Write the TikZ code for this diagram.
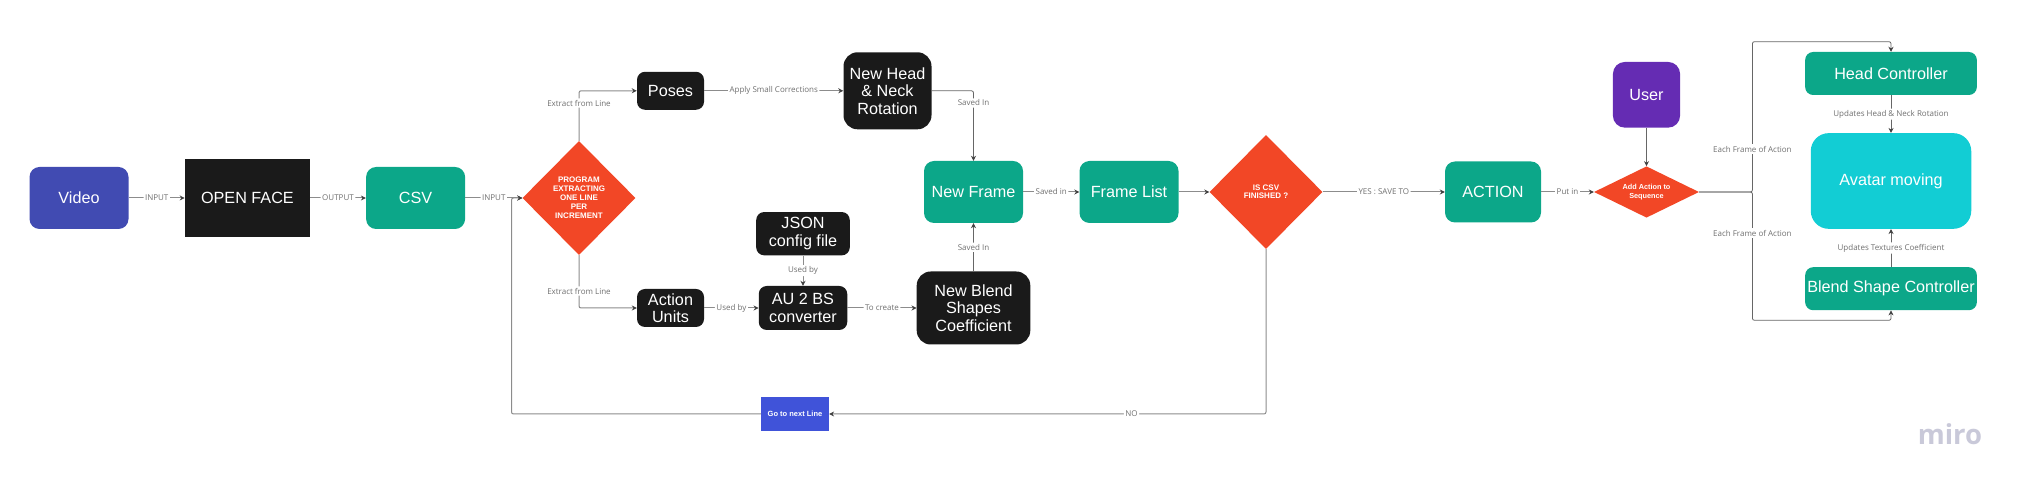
\documentclass[tikz,border=0pt]{standalone}
\usepackage{fontspec}
\setmainfont{Liberation Sans}
\newfontfamily\labelfont{Open Sans}
\usetikzlibrary{shapes.geometric,arrows.meta}
\definecolor{videoblue}{HTML}{414BB2}
\definecolor{nextblue}{HTML}{4053D9}
\definecolor{flowteal}{HTML}{0CA789}
\definecolor{flowdark}{HTML}{1A1A1A}
\definecolor{flowred}{HTML}{F24726}
\definecolor{userpurple}{HTML}{652CB3}
\definecolor{avatarcyan}{HTML}{12CDD4}
\definecolor{linegray}{HTML}{8C8C8C}
\definecolor{thingray}{HTML}{666666}
\definecolor{tipgray}{HTML}{414141}
\definecolor{labelgray}{HTML}{707070}
\definecolor{miroglyph}{HTML}{C9C9D9}
\begin{document}
\begin{tikzpicture}[x=1pt,y=1pt]
    \tikzstyle{box} = [rectangle, text=white, inner sep=0pt, align=center, font=\fontsize{16.2}{17.5}\selectfont]
    \tikzstyle{tealbox} = [box, fill=flowteal, rounded corners=10pt, minimum width=99pt, minimum height=62pt]
    \tikzstyle{darkbox} = [box, fill=flowdark, rounded corners=8pt]
    \tikzstyle{decision} = [diamond, fill=flowred, text=white, inner sep=0pt, align=center, minimum width=113pt, minimum height=114pt, font=\fontsize{8}{9}\selectfont\bfseries]
    \tikzstyle{arrow} = [line width=1pt, draw=linegray, rounded corners=2pt, ->, >={Stealth[length=5pt,width=5pt,color=tipgray]}]
    \tikzstyle{thinarrow} = [arrow, line width=0.8pt, draw=thingray]
    \tikzstyle{linelabel} = [fill=white, text=labelgray, inner sep=1.5pt, font=\labelfont\fontsize{8}{9}\selectfont]

    \useasboundingbox (0,0) rectangle (2030,492);

    \node [box, fill=videoblue, rounded corners=10pt, minimum width=99pt, minimum height=62pt] (video) at (79,294) {Video};
    \node [box, fill=flowdark, minimum width=125pt, minimum height=78pt, right of=video, node distance=168.4pt] (openface) {OPEN FACE};
    \node [tealbox, right of=openface, node distance=168.2pt] (csv) {CSV};
    \node [decision, right of=csv, node distance=163.4pt] (program) {PROGRAM\\EXTRACTING\\ONE LINE\\PER\\INCREMENT};
    \coordinate [left of=program, node distance=67.5pt] (loopin);

    \node [darkbox, minimum width=67pt, minimum height=38pt, right of=program, node distance=91.5pt, yshift=107.2pt] (poses) {Poses};
    \node [darkbox, minimum width=67pt, minimum height=38pt, right of=program, node distance=91.5pt, yshift=-110pt] (actionunits) {Action\\Units};
    \node [darkbox, rounded corners=14pt, minimum width=88pt, minimum height=77pt, right of=poses, node distance=217pt] (newhead) {New Head\\\& Neck\\Rotation};
    \node [darkbox, minimum width=88.5pt, minimum height=44pt, right of=actionunits, node distance=132.5pt] (converter) {AU 2 BS\\converter};
    \node [darkbox, minimum width=93.6pt, minimum height=43.3pt, above of=converter, node distance=74.3pt] (jsonfile) {JSON\\config file};
    \node [darkbox, rounded corners=14pt, minimum width=113.6pt, minimum height=73pt, right of=converter, node distance=170.5pt] (newblend) {New Blend\\Shapes\\Coefficient};
    \node [tealbox, above of=newblend, node distance=116pt] (newframe) {New Frame};
    \node [tealbox, right of=newframe, node distance=155.5pt] (framelist) {Frame List};
    \node [decision, font=\fontsize{8}{8}\selectfont\bfseries, right of=framelist, node distance=137pt] (finished) {IS CSV\\FINISHED ?};
    \node [tealbox, minimum width=96pt, minimum height=61pt, right of=finished, node distance=227pt] (action) {ACTION};
    \node [decision, aspect=2, minimum width=105pt, minimum height=51.3pt, font=\fontsize{7.3}{9.3}\selectfont\bfseries, right of=action, node distance=153.5pt] (addaction) {Add Action to\\Sequence};
    \node [box, fill=userpurple, rounded corners=12pt, minimum width=67.2pt, minimum height=65.7pt, above of=addaction, node distance=97.2pt] (user) {User};
    \node [tealbox, rounded corners=8pt, minimum width=171.7pt, minimum height=43pt, right of=addaction, node distance=244.5pt, yshift=118.5pt] (headctrl) {Head Controller};
    \node [box, fill=avatarcyan, rounded corners=18pt, minimum width=160.5pt, minimum height=95.7pt, right of=addaction, node distance=244.5pt, yshift=11pt] (avatar) {Avatar moving};
    \node [tealbox, rounded corners=8pt, minimum width=171.7pt, minimum height=43pt, below of=avatar, node distance=107.7pt] (blendctrl) {Blend Shape Controller};
    \node [rectangle, fill=nextblue, text=white, minimum width=67.7pt, minimum height=34pt, inner sep=0pt, font=\fontsize{7.5}{9}\selectfont\bfseries, below of=converter, node distance=106pt, xshift=-8pt] (nextline) {Go to next Line};
    \node [text=miroglyph, inner sep=0pt, anchor=base, font=\labelfont\fontsize{27.5}{27.5}\selectfont\bfseries] (miro) at (1950,47) {miro};

    \coordinate [right of=addaction, node distance=105.9pt] (split);
    \coordinate [above of=headctrl, node distance=31.8pt] (headtop);
    \coordinate [below of=blendctrl, node distance=31.6pt] (blendbottom);

    \draw [arrow] (video) -- (openface) node[midway, linelabel] {INPUT};
    \draw [arrow] (openface) -- (csv) node[midway, linelabel] {OUTPUT};
    \draw [arrow] (csv) -- (program) node[midway, linelabel] {INPUT};
    \draw [arrow] (program.north) |- (poses.west) node[pos=0.377, linelabel] {Extract from Line};
    \draw [arrow] (program.south) |- (actionunits.west) node[pos=0.34, linelabel] {Extract from Line};
    \draw [arrow] (poses) -- (newhead) node[midway, linelabel] {Apply Small Corrections};
    \draw [arrow] (actionunits) -- (converter) node[midway, linelabel] {Used by};
    \draw [arrow] (jsonfile) -- (converter) node[midway, linelabel] {Used by};
    \draw [arrow] (converter) -- (newblend) node[midway, linelabel] {To create};
    \draw [thinarrow] (newhead.east) -| (newframe.north) node[pos=0.587, linelabel] {Saved In};
    \draw [thinarrow] (newblend) -- (newframe) node[midway, linelabel] {Saved In};
    \draw [arrow] (newframe) -- (framelist) node[midway, linelabel] {Saved in};
    \draw [arrow] (framelist) -- (finished);
    \draw [arrow] (finished) -- (action) node[midway, linelabel] {YES : SAVE TO};
    \draw [arrow] (action) -- (addaction) node[midway, linelabel] {Put in};
    \draw [thinarrow] (user) -- (addaction);
    \draw [arrow] (finished.south) |- (nextline.east) node[pos=0.654, linelabel] {NO};
    \draw [arrow] (nextline.west) -| (loopin) -- (program.west);
    \draw [thinarrow] (addaction.east) -- (split) |- (headtop) -- (headctrl.north);
    \draw [thinarrow] (addaction.east) -- (split) |- (blendbottom) -- (blendctrl.south);
    \draw [thinarrow] (headctrl) -- (avatar) node[midway, linelabel] {Updates Head \& Neck Rotation};
    \draw [thinarrow] (blendctrl) -- (avatar) node[midway, linelabel] {Updates Textures Coefficient};
    \node [linelabel] (eachtop) at (1752.4,343) {Each Frame of Action};
    \node [linelabel] (eachbottom) at (1752.4,259) {Each Frame of Action};
\end{tikzpicture}
\end{document}
